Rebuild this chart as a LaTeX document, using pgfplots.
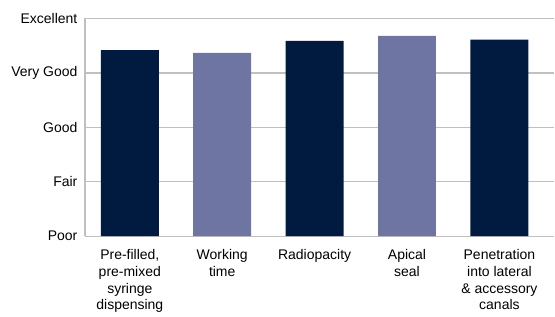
\documentclass[border=0pt]{standalone}
\usepackage{pgfplots}
\pgfplotsset{compat=1.18}
\usepackage{fontspec}
\setmainfont{Liberation Sans}
\definecolor{navy}{RGB}{0,26,64}
\definecolor{lav}{RGB}{110,117,163}
\definecolor{gridc}{RGB}{192,192,192}
\begin{document}
\begin{tikzpicture}
\begin{axis}[
  scale only axis,
  width=470pt, height=218pt,
  at={(0,0)}, anchor=south west,
  xmin=-0.486, xmax=4.595,
  ymin=0, ymax=4,
  axis lines*=left,
  axis line style={gridc, line width=1.2pt},
  ytick={0,1,2,3,4},
  yticklabels={Poor,Fair,Good,Very Good,Excellent},
  ymajorgrids,
  grid style={gridc, line width=1.2pt},
  xtick={0,1,2,3,4},
  xticklabels={{Pre-filled,\\pre-mixed\\syringe\\dispensing},{Working\\time},{Radiopacity},{Apical\\seal},{Penetration\\into lateral\\\& accessory\\canals}},
  major tick length=0pt,
  tick style={draw=none},
  yticklabel style={font=\fontsize{14}{16}\selectfont, xshift=-4pt},
  xticklabel style={font=\fontsize{14}{16.7}\selectfont, align=center, yshift=-10pt},
  ybar, bar width=58pt,
  bar shift=0pt,
]
\addplot[fill=navy, draw=none] coordinates {(0,3.42) (2,3.59) (4,3.61)};
\addplot[fill=lav, draw=none] coordinates {(1,3.37) (3,3.68)};
\end{axis}
\path[use as bounding box] (-85pt,-75.5pt) rectangle (470pt,236.5pt);
\end{tikzpicture}
\end{document}
